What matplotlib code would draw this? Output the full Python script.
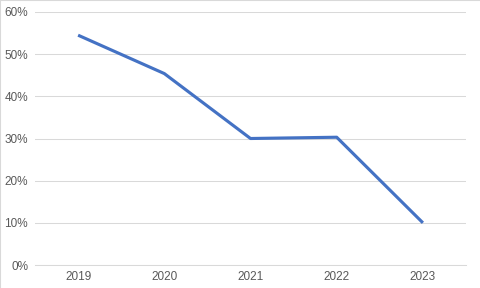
import matplotlib
matplotlib.use("Agg")
import matplotlib.pyplot as plt
from matplotlib.lines import Line2D
from matplotlib.ticker import PercentFormatter

# --- Data ---
years = ["2019", "2020", "2021", "2022", "2023"]
share = [54.5, 45.4, 30.0, 30.3, 10.0]
y_ticks = [0, 10, 20, 30, 40, 50, 60]

plt.rcParams['font.family'] = ['Liberation Sans', 'DejaVu Sans']

fig = plt.figure(figsize=(4.8, 2.88), dpi=100)
ax = fig.add_axes([35 / 480, 1 - 265 / 288, 431 / 480, 253 / 288])

ax.plot(range(len(years)), share, color="#4472C4", linewidth=2.25,
        solid_joinstyle="round", solid_capstyle="butt", zorder=3)

ax.set_xlim(-0.5, len(years) - 0.5)
ax.set_ylim(0, 60)
ax.set_yticks(y_ticks)
ax.yaxis.set_major_formatter(PercentFormatter(decimals=0))
ax.set_xticks(range(len(years)))
ax.set_xticklabels(years)

ax.grid(axis="y", color="#D9D9D9", linewidth=0.75)
ax.set_axisbelow(True)
for side in ["top", "right", "left"]:
    ax.spines[side].set_visible(False)
ax.spines["bottom"].set_color("#D9D9D9")
ax.spines["bottom"].set_linewidth(0.75)
ax.tick_params(axis="both", length=0, labelsize=8.5, labelcolor="#595959")
ax.tick_params(axis="y", pad=5)
ax.tick_params(axis="x", pad=4)

# chart border (only top and left edges show in the crop)
fig.lines.append(Line2D([0.001, 0.001, 1], [0, 0.999, 0.999], transform=fig.transFigure,
                        color="#D9D9D9", linewidth=1.5))

fig.savefig("out.png", dpi=100)
